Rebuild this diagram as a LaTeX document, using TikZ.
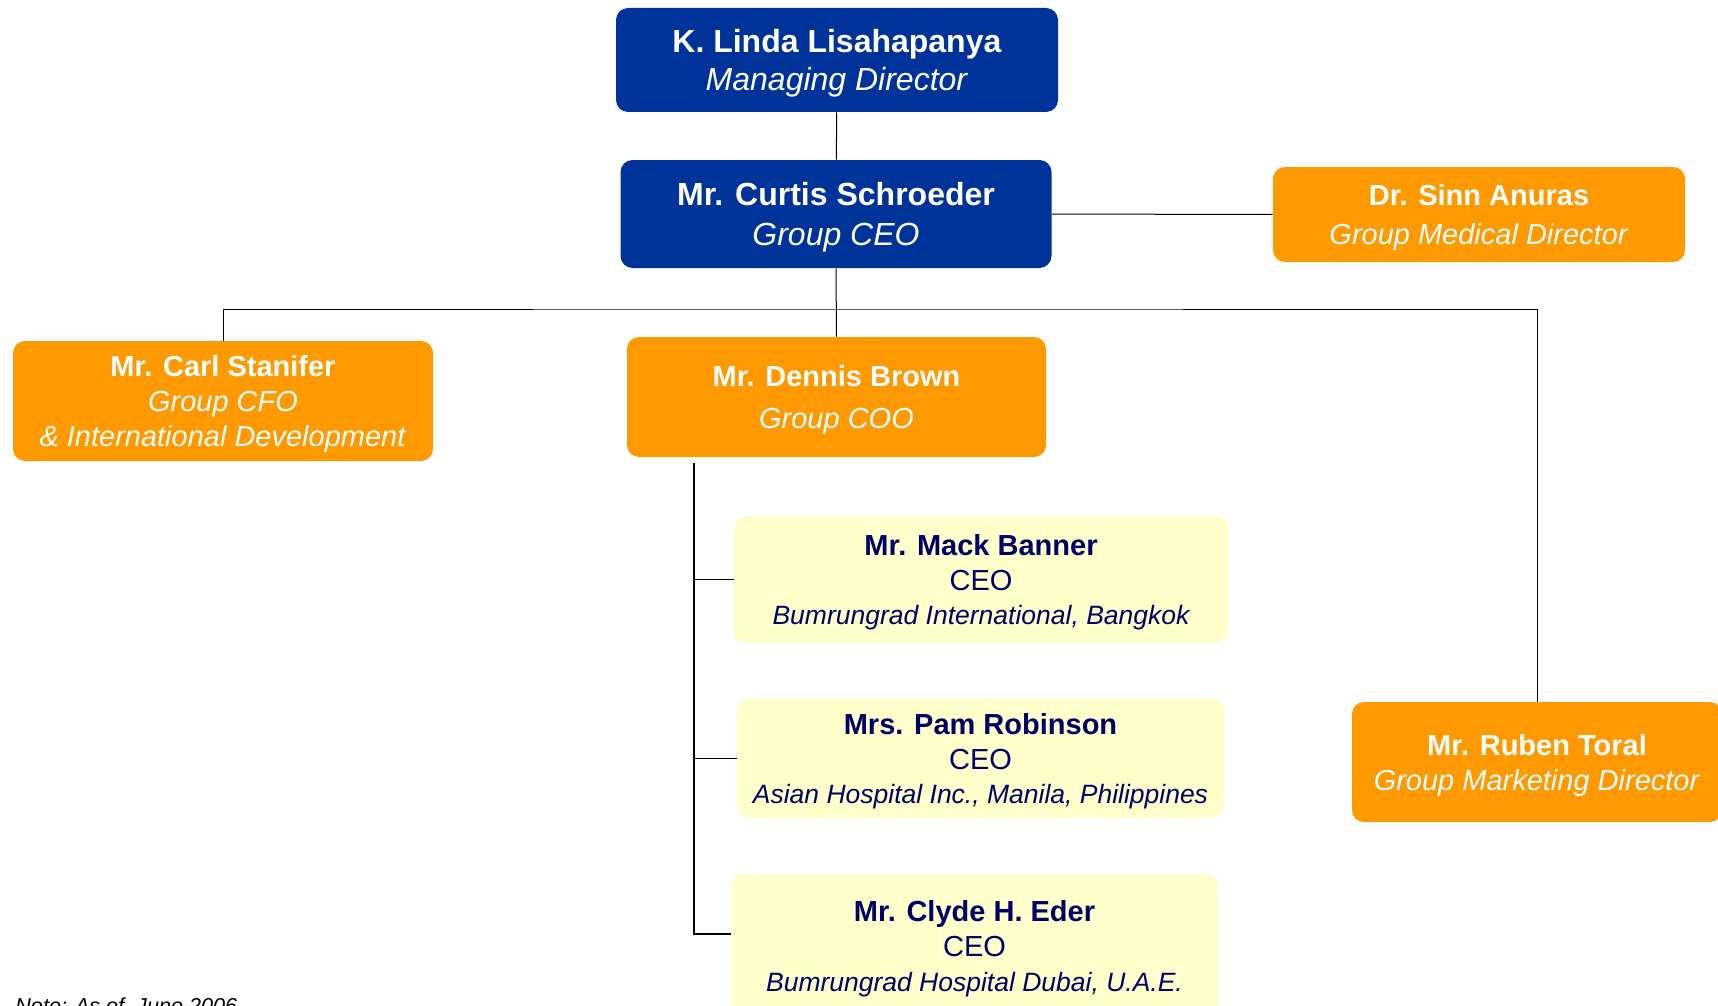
\documentclass[tikz,border=0pt]{standalone}
\usepackage{fontspec}
\setmainfont{Liberation Sans}
\usepackage{tikz}
\definecolor{ceoblue}{RGB}{0,51,153}
\definecolor{execorange}{RGB}{255,153,0}
\definecolor{hospyellow}{RGB}{255,255,204}
\definecolor{hospnavy}{RGB}{0,0,102}
\newcommand{\hospsite}[1]{{\fontsize{13.25}{17.3}\selectfont\itshape #1}}

\begin{document}
\begin{tikzpicture}[x=0.5pt,y=-0.5pt,
	every node/.style={rectangle,rounded corners=6pt,inner sep=0pt,align=center,text depth=0pt},
	bluebox/.style={fill=ceoblue,text=white,font=\fontsize{16}{19.2}\selectfont},
	orangebox/.style={fill=execorange,text=white,font=\fontsize{14.5}{17.5}\selectfont},
	yellowbox/.style={fill=hospyellow,text=hospnavy,font=\fontsize{14.5}{17.3}\selectfont},
	link/.style={draw=black,line width=0.5pt}]
	\useasboundingbox (0,0) rectangle (1718,1006);
	\clip (0,0) rectangle (1718,1006);
	\node[bluebox,minimum width=221pt,minimum height=52pt] (linda) at (837,60) {\textbf{K. Linda Lisahapanya}\\\textit{Managing Director}};
	\node[bluebox,minimum width=215.5pt,minimum height=54pt] (curtis) at (836,214) {\textbf{Mr. Curtis Schroeder}\\[0.5pt]\textit{Group CEO}};
	\node[orangebox,minimum width=206pt,minimum height=47.5pt] (sinn) at (1479,214.5) {\textbf{Dr. Sinn Anuras}\\[2.2pt]\textit{Group Medical Director}};
	\node[orangebox,minimum width=210pt,minimum height=60pt] (carl) at (223,401) {\textbf{Mr. Carl Stanifer}\\\textit{Group CFO}\\\textit{\& International Development}};
	\node[orangebox,minimum width=209.5pt,minimum height=60pt] (dennis) at (836.5,397) {\textbf{Mr. Dennis Brown}\\[3.3pt]\textit{Group COO}};
	\node[orangebox,minimum width=185pt,minimum height=60pt] (ruben) at (1537,762) {\textbf{Mr. Ruben Toral}\\\textit{Group Marketing Director}};
	\node[yellowbox,minimum width=247pt,minimum height=63.5pt] (mack) at (981,579.5) {\textbf{Mr. Mack Banner}\\CEO\\\hospsite{Bumrungrad International, Bangkok}};
	\node[yellowbox,minimum width=243.5pt,minimum height=59.5pt] (pam) at (980.5,758.5) {\textbf{Mrs. Pam Robinson}\\CEO\\\hospsite{Asian Hospital Inc., Manila, Philippines}};
	\node[yellowbox,minimum width=243.5pt,minimum height=72pt] (clyde) at (974.5,946) {\textbf{Mr. Clyde H. Eder}\\CEO\\\hospsite{Bumrungrad Hospital Dubai, U.A.E.}};
	\node[anchor=base west,rounded corners=0pt,text depth=,font=\fontsize{10.8}{13}\selectfont\itshape] (note) at (15,1013) {Note: As of~ June 2006};
	\coordinate (bus) at (836,309);
	\coordinate (spine) at (694,463);
	\draw[link] (linda) -- (curtis);
	\draw[link] (curtis) -- (sinn);
	\draw[link] (curtis) -- (dennis);
	\draw[link] (carl.north) |- (bus) -| (ruben.north);
	\draw[link,line width=0.8pt] (spine) |- (mack.west);
	\draw[link,line width=0.8pt] (spine) |- (pam.west);
	\draw[link,line width=0.8pt] (spine) |- ([yshift=6pt]clyde.west);
\end{tikzpicture}
\end{document}
